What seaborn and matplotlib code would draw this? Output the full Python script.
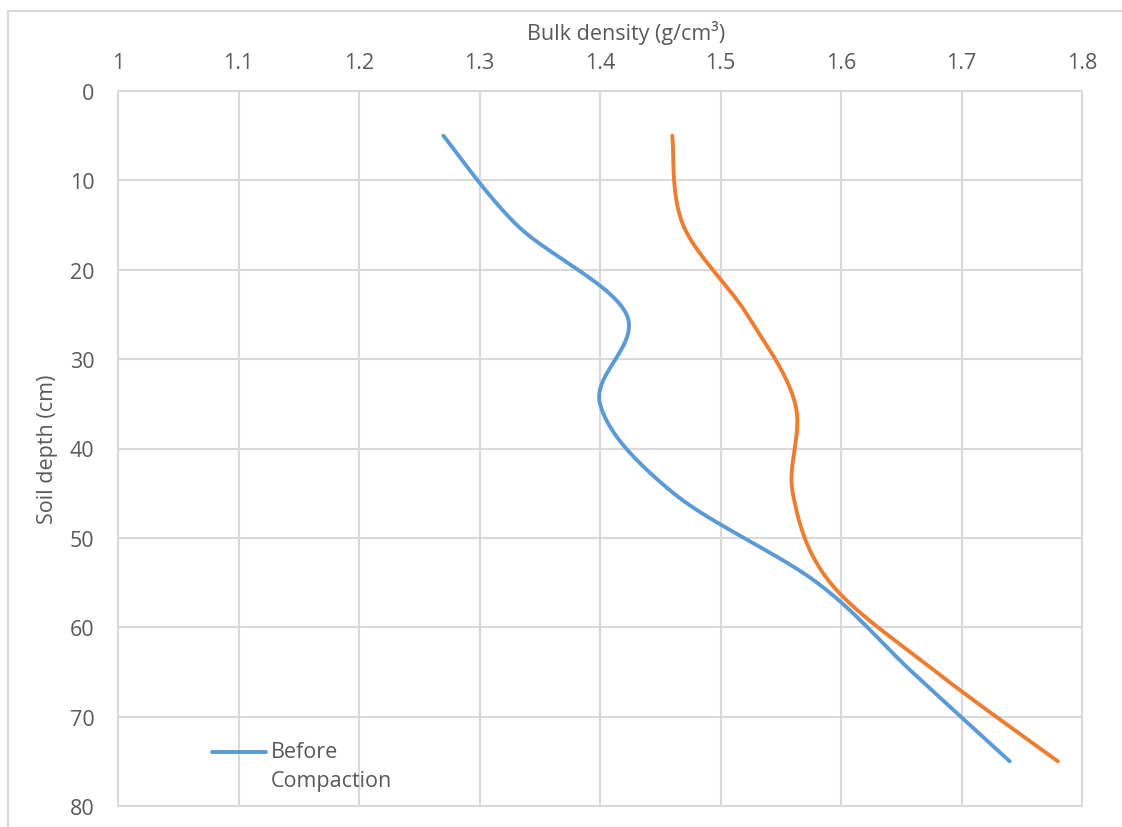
import numpy as np
import pandas as pd
import seaborn as sns
import matplotlib.pyplot as plt
from matplotlib.patches import Rectangle
from matplotlib.lines import Line2D
from matplotlib.legend_handler import HandlerLine2D

# Sampling depths (cm) and bulk density readings (g/cm3)
depth = [5, 15, 25, 35, 45, 55, 65, 75]
before_compaction = [1.27, 1.331, 1.422, 1.400, 1.461, 1.580, 1.659, 1.74]
after_compaction = [1.46, 1.469, 1.522, 1.562, 1.560, 1.591, 1.679, 1.78]

x_ticks = [1, 1.1, 1.2, 1.3, 1.4, 1.5, 1.6, 1.7, 1.8]
y_ticks = [0, 10, 20, 30, 40, 50, 60, 70, 80]

BLUE = "#5B9BD5"
ORANGE = "#ED7D31"
GRID = "#D9D9D9"
TEXT = "#595959"
FS = 15.5


def smooth(xs, ys, n=40):
    """Catmull-Rom spline through the points (parametric, like a smoothed scatter line)."""
    p = np.column_stack([xs, ys]).astype(float)
    p = np.vstack([p[0], p, p[-1]])
    out = []
    t = np.linspace(0, 1, n, endpoint=False)[:, None]
    for i in range(1, len(p) - 2):
        p0, p1, p2, p3 = p[i - 1], p[i], p[i + 1], p[i + 2]
        c1 = p1 + (p2 - p0) / 6.0
        c2 = p2 - (p3 - p1) / 6.0
        seg = ((1 - t) ** 3) * p1 + 3 * ((1 - t) ** 2) * t * c1 + 3 * (1 - t) * t ** 2 * c2 + t ** 3 * p2
        out.append(seg)
    out.append(p[-2][None, :])
    arr = np.vstack(out)
    return arr[:, 0], arr[:, 1]


class FirstLineHandler(HandlerLine2D):
    """Legend line aligned with the first line of a two-line label."""

    def __init__(self, shift, **kw):
        super().__init__(**kw)
        self.shift = shift

    def create_artists(self, legend, orig_handle, xdescent, ydescent, width,
                       height, fontsize, trans):
        arts = super().create_artists(legend, orig_handle, xdescent, ydescent,
                                      width, height, fontsize, trans)
        for a in arts:
            a.set_ydata(np.asarray(a.get_ydata(), dtype=float) + self.shift)
        return arts


sns.set_theme(style="white")
plt.rcParams["font.family"] = ["Open Sans", "DejaVu Sans"]

W, H = 1122, 828
fig = plt.figure(figsize=(W / 100, H / 100), dpi=100)
ax = fig.add_axes([118 / W, 1 - 807 / H, (1082 - 118) / W, (807 - 92) / H])

bx, by = smooth(before_compaction, depth)
ox, oy = smooth(after_compaction, depth)
df_b = pd.DataFrame({"density": bx, "depth": by})
df_o = pd.DataFrame({"density": ox, "depth": oy})

sns.lineplot(data=df_b, x="density", y="depth", sort=False, estimator=None,
             color=BLUE, linewidth=2.8, ax=ax, label="Before\nCompaction",
             solid_capstyle="round")
sns.lineplot(data=df_o, x="density", y="depth", sort=False, estimator=None,
             color=ORANGE, linewidth=2.8, ax=ax, label="_nolegend_",
             solid_capstyle="round")

ax.set_xlim(1, 1.8)
ax.set_ylim(80, 0)
ax.set_xticks(x_ticks)
ax.set_xticklabels([f"{v:g}" for v in x_ticks])
ax.set_yticks(y_ticks)
ax.xaxis.tick_top()
ax.xaxis.set_label_position("top")
ax.tick_params(axis="both", length=0, labelsize=FS, labelcolor=TEXT)
ax.tick_params(axis="x", pad=13)
ax.tick_params(axis="y", pad=17)

ax.grid(True, color=GRID, linewidth=1.5)
for s in ax.spines.values():
    s.set_color(GRID)
    s.set_linewidth(1.5)

ax.set_xlabel("Bulk density (g/cm³)", fontsize=FS, color=TEXT, va="center")
ax.set_ylabel("Soil depth (cm)", fontsize=FS, color=TEXT, va="center")
ax.xaxis.set_label_coords((626 - 118) / (1082 - 118), (807 - 33) / (807 - 92))
ax.yaxis.set_label_coords((48 - 118) / (1082 - 118), 0.5)

handles, labels = ax.get_legend_handles_labels()
leg = ax.legend(handles, labels, loc="center left", frameon=False, fontsize=FS,
                handlelength=2.5, handletextpad=0.22, labelcolor=TEXT,
                borderpad=0, borderaxespad=0,
                handler_map={Line2D: FirstLineHandler(shift=10.6)},
                bbox_to_anchor=((212 - 118) / (1082 - 118), (807 - 767) / (807 - 92)))
for t in leg.get_texts():
    t.set_linespacing(1.45)

# Light chart-area border
fig.patches.append(Rectangle((8 / W, -0.05), 1.1, 1 - 12 / H + 0.05, transform=fig.transFigure,
                             fill=False, edgecolor=GRID, linewidth=1.5))

fig.savefig("out.png", dpi=100)
